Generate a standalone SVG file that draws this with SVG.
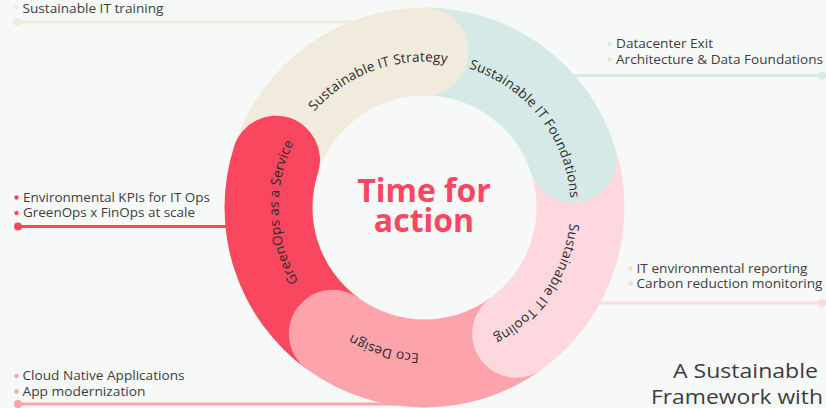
<svg xmlns="http://www.w3.org/2000/svg" xmlns:xlink="http://www.w3.org/1999/xlink" width="826" height="408" viewBox="0 0 826 408">
  <style>
    .bg { fill: #F7F9F9; }
    .side { font-family: "Open Sans", "DejaVu Sans", sans-serif; font-size: 13px; fill: #3d3d3d; }
    .arc { font-family: "Open Sans", "DejaVu Sans", sans-serif; font-size: 13.5px; fill: #2a2a2a; letter-spacing: 0.2px; }
    .title { font-family: "Open Sans", "DejaVu Sans", sans-serif; font-size: 32px; font-weight: 700; fill: #F8475F; }
    .big { font-family: "Open Sans", "DejaVu Sans", sans-serif; font-size: 20px; fill: #3d3d3d; }
    .ln { stroke-width: 3; fill: none; }
    .beige { fill: #F1EBDD; } .beigeS { stroke: #F1EBDD; }
    .teal { fill: #D5EAE7; } .tealS { stroke: #D5EAE7; }
    .pink { fill: #FDD8DE; } .pinkS { stroke: #FDD8DE; }
    .salmon { fill: #FDA3AC; } .salmonS { stroke: #FDA3AC; }
    .red { fill: #F9475F; } .redS { stroke: #F9475F; }
  </style>
  <defs>
    <path id="pStrategy" d="M280.72,182.15 A146,146 0 0 1 518.35,95.66"/>
    <path id="pFoundations" d="M404.18,62.92 A146,146 0 0 1 559.87,262.19"/>
    <path id="pTooling" d="M555.72,143.50 A146,146 0 0 1 414.32,353.14"/>
    <path id="pEco" d="M525.92,312.52 A146,146 0 0 1 282.84,242.82"/>
    <path id="pGreen" d="M355.96,336.41 A146,146 0 0 1 347.13,83.68"/>
  </defs>
  <rect class="bg" x="0" y="0" width="826" height="408"/>

  <g id="connectors">
    <line class="ln beigeS" x1="17" y1="22" x2="380" y2="22"/>
    <circle class="beige" cx="17" cy="22" r="4"/>
    <line class="ln tealS" x1="500" y1="75.5" x2="822" y2="75.5"/>
    <circle class="teal" cx="822" cy="75.5" r="4"/>
    <line class="ln redS" x1="18" y1="226.5" x2="260" y2="226.5"/>
    <circle class="red" cx="18" cy="226.5" r="4"/>
    <line class="ln pinkS" x1="560" y1="303" x2="822" y2="303"/>
    <circle class="pink" cx="822" cy="303" r="4"/>
    <line class="ln salmonS" x1="18" y1="404" x2="424" y2="404"/>
    <circle class="salmon" cx="18" cy="404" r="4"/>
  </g>

  <g id="foundations">
    <path class="teal" d="M424.5,7.5 A200,200 0 0 1 614.71,145.70 A44,44 0 0 1 531.02,172.89 A112,112 0 0 0 424.5,95.5 Z"/>
    <text class="arc"><textPath href="#pFoundations" xlink:href="#pFoundations" startOffset="50%" text-anchor="middle">Sustainable IT Foundations</textPath></text>
  </g>
  <g id="strategy">
    <path class="beige" d="M234.29,145.70 A200,200 0 0 1 424.5,7.5 A44,44 0 0 1 424.5,95.5 A112,112 0 0 0 317.98,172.89 Z"/>
    <text class="arc"><textPath href="#pStrategy" xlink:href="#pStrategy" startOffset="50%" text-anchor="middle">Sustainable IT Strategy</textPath></text>
  </g>
  <g id="greenops">
    <path class="red" d="M306.94,369.30 A200,200 0 0 1 234.29,145.70 A44,44 0 0 1 317.98,172.89 A112,112 0 0 0 358.67,298.11 Z"/>
    <text class="arc"><textPath href="#pGreen" xlink:href="#pGreen" startOffset="50%" text-anchor="middle">GreenOps as a Service</textPath></text>
  </g>
  <g id="ecodesign">
    <path class="salmon" d="M542.06,369.30 A200,200 0 0 1 306.94,369.30 A44,44 0 0 1 358.67,298.11 A112,112 0 0 0 490.33,298.11 Z"/>
    <text class="arc"><textPath href="#pEco" xlink:href="#pEco" startOffset="50%" text-anchor="middle">Eco Design</textPath></text>
  </g>
  <g id="tooling">
    <path class="pink" d="M614.71,145.70 A200,200 0 0 1 542.06,369.30 A44,44 0 0 1 490.33,298.11 A112,112 0 0 0 531.02,172.89 A44,44 0 0 0 614.71,145.70 Z"/>
    <text class="arc"><textPath href="#pTooling" xlink:href="#pTooling" startOffset="50%" text-anchor="middle">Sustainable IT Tooling</textPath></text>
  </g>

  <g id="title">
    <text class="title" x="424" y="202" text-anchor="middle">Time for</text>
    <text class="title" x="424" y="232" text-anchor="middle">action</text>
  </g>

  <g id="list-strategy">
    <circle class="beige" cx="16" cy="7.5" r="2.2"/>
    <text class="side" x="22.5" y="12.5" textLength="141" lengthAdjust="spacingAndGlyphs">Sustainable IT training</text>
  </g>
  <g id="list-foundations">
    <circle class="teal" cx="609.5" cy="44" r="2.2"/>
    <text class="side" x="616" y="48" textLength="97" lengthAdjust="spacingAndGlyphs">Datacenter Exit</text>
    <circle class="teal" cx="609.5" cy="59.5" r="2.2"/>
    <text class="side" x="616" y="63.5" textLength="207" lengthAdjust="spacingAndGlyphs">Architecture &amp; Data Foundations</text>
  </g>
  <g id="list-greenops">
    <circle class="red" cx="16.5" cy="197.5" r="2.2"/>
    <text class="side" x="23" y="201.5" textLength="187" lengthAdjust="spacingAndGlyphs">Environmental KPIs for IT Ops</text>
    <circle class="red" cx="16.5" cy="213" r="2.2"/>
    <text class="side" x="23" y="217" textLength="172" lengthAdjust="spacingAndGlyphs">GreenOps x FinOps at scale</text>
  </g>
  <g id="list-tooling">
    <circle class="pink" cx="630.5" cy="268.5" r="2.2"/>
    <text class="side" x="636.5" y="272.5" textLength="171" lengthAdjust="spacingAndGlyphs">IT environmental reporting</text>
    <circle class="pink" cx="630.5" cy="283.5" r="2.2"/>
    <text class="side" x="636.5" y="287.5" textLength="186" lengthAdjust="spacingAndGlyphs">Carbon reduction monitoring</text>
  </g>
  <g id="list-eco">
    <circle class="salmon" cx="16.5" cy="376" r="2.2"/>
    <text class="side" x="22.5" y="380" textLength="162" lengthAdjust="spacingAndGlyphs">Cloud Native Applications</text>
    <circle class="salmon" cx="16.5" cy="391.5" r="2.2"/>
    <text class="side" x="22.5" y="395.5" textLength="123" lengthAdjust="spacingAndGlyphs">App modernization</text>
  </g>

  <g id="caption">
    <text class="big" x="673" y="378" textLength="145" lengthAdjust="spacingAndGlyphs">A Sustainable</text>
    <text class="big" x="651" y="404" textLength="172" lengthAdjust="spacingAndGlyphs">Framework with</text>
  </g>
</svg>
